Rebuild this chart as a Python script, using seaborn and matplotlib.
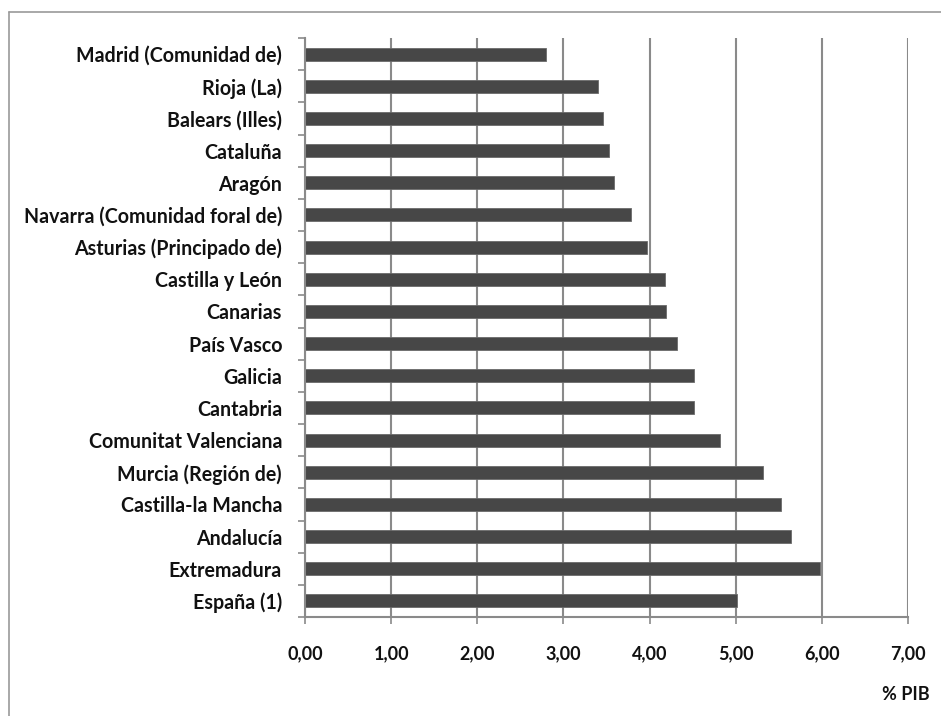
import matplotlib
matplotlib.use("Agg")
import matplotlib.pyplot as plt
from matplotlib.lines import Line2D
from matplotlib.ticker import FixedLocator, FuncFormatter
import seaborn as sns
import pandas as pd

regiones = [
    "Madrid (Comunidad de)", "Rioja (La)", "Balears (Illes)", "Cataluña", "Aragón",
    "Navarra (Comunidad foral de)", "Asturias (Principado de)", "Castilla y León",
    "Canarias", "País Vasco", "Galicia", "Cantabria", "Comunitat Valenciana",
    "Murcia (Región de)", "Castilla-la Mancha", "Andalucía", "Extremadura", "España (1)",
]
pct_pib = [2.80, 3.40, 3.46, 3.53, 3.59, 3.79, 3.97, 4.18, 4.19, 4.32,
           4.51, 4.52, 4.82, 5.32, 5.52, 5.64, 5.98, 5.02]
x_ticks = [0, 1, 2, 3, 4, 5, 6, 7]
x_label = "% PIB"

df = pd.DataFrame({"region": regiones, "pct": pct_pib})

sns.set_theme(style="white")
plt.rcParams["font.family"] = ["Lato", "DejaVu Sans"]

W, H = 941, 716
fig = plt.figure(figsize=(W / 100, H / 100), dpi=100)
ax = fig.add_axes([305 / W, 1 - 617 / H, 603 / W, 579 / H])

grid_c = "#8a8a8a"
for x in x_ticks:
    ax.axvline(x, color=grid_c, lw=1.5, zorder=0)

sns.barplot(data=df, x="pct", y="region", orient="h", color="#474747",
            width=0.4, saturation=1, edgecolor="#6a6a6a", linewidth=0.6,
            ax=ax, zorder=2)

ax.set_xlim(0, 7)
ax.set_ylim(len(regiones) - 0.5, -0.5)
ax.xaxis.set_major_locator(FixedLocator(x_ticks))
ax.xaxis.set_major_formatter(FuncFormatter(lambda v, p: f"{v:.2f}".replace(".", ",")))
ax.set_xlabel("")
ax.set_ylabel("")

for s in ["top", "right"]:
    ax.spines[s].set_visible(False)
for s in ["left", "bottom"]:
    ax.spines[s].set_color(grid_c)
    ax.spines[s].set_linewidth(1.5)

ax.yaxis.set_minor_locator(FixedLocator([i - 0.5 for i in range(len(regiones) + 1)]))
ax.tick_params(axis="y", which="major", length=0, pad=16.5, labelsize=14.1)
ax.tick_params(axis="y", which="minor", left=True, length=5, width=1.2, color=grid_c)
ax.tick_params(axis="x", which="major", bottom=True, length=5, width=1.2, color=grid_c,
               pad=15, labelsize=13)
for lab in ax.get_yticklabels() + ax.get_xticklabels():
    lab.set_fontweight("bold")
    lab.set_color("#111111")

fig.text(930 / W, 1 - 695 / H, x_label, ha="right", va="center",
         fontsize=13, fontweight="bold", color="#111111")

# outer frame: top and left edges
fig.add_artist(Line2D([9 / W, 1], [1 - 12 / H, 1 - 12 / H], color="#9a9a9a", lw=1.2))
fig.add_artist(Line2D([9 / W, 9 / W], [1 - 12 / H, 0], color="#9a9a9a", lw=1.2))

fig.savefig("out.png", dpi=100, facecolor="white")
